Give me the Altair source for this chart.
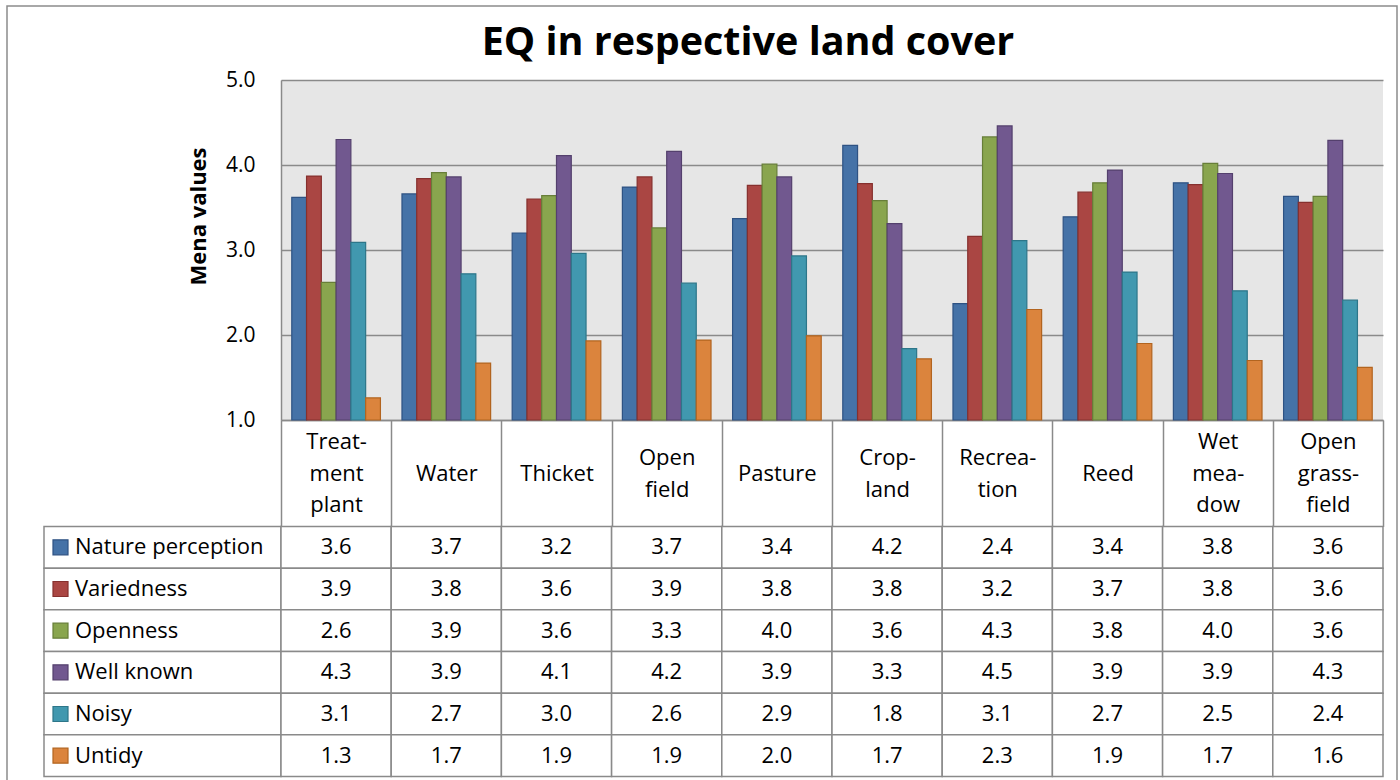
import altair as alt
import pandas as pd

# ---- data -------------------------------------------------------------
chart_title = "EQ in respective land cover"
value_axis_title = "Mena values"

# land-cover classes, written with the line breaks used in the table header
land_cover = [
    "Treat-\nment\nplant", "Water", "Thicket", "Open\nfield", "Pasture",
    "Crop-\nland", "Recrea-\ntion", "Reed", "Wet\nmea-\ndow", "Open\ngrass-\nfield",
]

series = ["Nature perception", "Variedness", "Openness", "Well known", "Noisy", "Untidy"]

nature_perception = [3.62, 3.66, 3.20, 3.74, 3.37, 4.23, 2.37, 3.39, 3.79, 3.63]
variedness        = [3.87, 3.84, 3.60, 3.86, 3.76, 3.78, 3.16, 3.68, 3.77, 3.56]
openness          = [2.62, 3.91, 3.64, 3.26, 4.01, 3.58, 4.33, 3.79, 4.02, 3.63]
well_known        = [4.30, 3.86, 4.11, 4.16, 3.86, 3.31, 4.46, 3.94, 3.90, 4.29]
noisy             = [3.09, 2.72, 2.96, 2.61, 2.93, 1.84, 3.11, 2.74, 2.52, 2.41]
untidy            = [1.26, 1.67, 1.93, 1.94, 1.99, 1.72, 2.30, 1.90, 1.70, 1.62]

axis_values = [1, 2, 3, 4, 5]

fill_colors = ["#4572A7", "#AA4643", "#89A54E", "#71588F", "#4198AF", "#DB843D"]
edge_colors = ["#2E5283", "#86302E", "#677E38", "#54406D", "#2D7689", "#B2641F"]

# ---- tables -------------------------------------------------------------
series_values = [nature_perception, variedness, openness, well_known, noisy, untidy]
records = []
for name, vals in zip(series, series_values):
    for cover, v in zip(land_cover, vals):
        records.append({"cover": cover, "series": name, "value": v})
long_df = pd.DataFrame(records)
legend_df = pd.DataFrame({"series": series})
title_df = pd.DataFrame({"title": [chart_title]})

# ---- styling ------------------------------------------------------------
FONT = "Open Sans"
LINE = "#8a8a8a"
PLOT_W, PLOT_H = 1102, 340
KEY_W = 237
TABLE_H = 250
HEADER_H = 106.5
HEADER_LINE = 31.7

fill_scale = alt.Scale(domain=series, range=fill_colors)
edge_scale = alt.Scale(domain=series, range=edge_colors)


def cover_scale():
    return alt.Scale(domain=land_cover, paddingInner=0, paddingOuter=0)


def row_scale():
    return alt.Scale(domain=series, paddingInner=0, paddingOuter=0)


# header labels are centred in the header row whatever their number of lines
n_lines = "length(split(datum.label, '\\n'))"
header_padding = {
    "condition": [
        {"test": f"{n_lines} == 3", "value": -HEADER_H / 2 - HEADER_LINE},
        {"test": f"{n_lines} == 2", "value": -HEADER_H / 2 - HEADER_LINE / 2},
    ],
    "value": -HEADER_H / 2,
}

# ---- top-left cell: outer frame and heading ---------------------------------
frame = alt.Chart(title_df).mark_rect(
    fill="white", fillOpacity=0, stroke="#8c8c8c", strokeWidth=1.5
).encode(x=alt.value(-37), x2=alt.value(1353), y=alt.value(-74), y2=alt.value(703))

heading = alt.Chart(title_df).mark_text(
    font=FONT, fontSize=39.5, fontWeight="bold", color="black",
    align="center", baseline="alphabetic",
).encode(x=alt.value(704), y=alt.value(-25), text="title:N")

corner = alt.layer(frame, heading).properties(width=KEY_W, height=PLOT_H)

# ---- grouped bars, with the land-cover header as the x axis ---------------
bars = alt.Chart(long_df).mark_bar(strokeWidth=1.2).encode(
    x=alt.X(
        "cover:N", sort=land_cover, scale=cover_scale(),
        axis=alt.Axis(
            title=None, orient="bottom", labelAngle=0,
            domainColor=LINE, domainWidth=1.5,
            ticks=True, tickBand="extent", tickSize=HEADER_H,
            tickColor=LINE, tickWidth=1.5,
            labelFont=FONT, labelFontSize=22, labelColor="black",
            labelPadding=header_padding, labelBaseline="middle",
            labelLineHeight=HEADER_LINE, labelOverlap=False,
            labelExpr="split(datum.label, '\\n')",
        ),
    ),
    xOffset=alt.XOffset(
        "series:N", sort=series,
        scale=alt.Scale(domain=series, paddingInner=0, paddingOuter=0.73),
    ),
    y=alt.Y(
        "value:Q", scale=alt.Scale(domain=[1, 5], zero=False, nice=False),
        axis=alt.Axis(
            title=value_axis_title, values=axis_values, format=".1f",
            ticks=False, domainColor=LINE, domainWidth=1.5,
            grid=True, gridColor=LINE, gridWidth=1.5,
            labelFont=FONT, labelFontSize=21, labelColor="black", labelPadding=26,
            titleFont=FONT, titleFontSize=22, titleFontWeight="bold",
            titleColor="black", titlePadding=15, titleY=136,
        ),
    ),
    y2=alt.datum(1),
    color=alt.Color("series:N", scale=fill_scale, legend=None),
    stroke=alt.Stroke("series:N", scale=edge_scale, legend=None),
).properties(
    width=PLOT_W, height=PLOT_H,
    view=alt.ViewBackground(fill="#e6e6e6", strokeWidth=0),
)

# ---- data table: legend column ---------------------------------------------
key_cells = alt.Chart(legend_df).mark_rect(
    fill="white", stroke=LINE, strokeWidth=1.5
).encode(
    y=alt.Y("series:N", sort=series, scale=row_scale(), axis=None),
    x=alt.value(0), x2=alt.value("width"),
)
key_swatches = alt.Chart(legend_df).mark_square(
    size=225, opacity=1, strokeWidth=1.2
).encode(
    y=alt.Y("series:N", sort=series, scale=row_scale(), axis=None),
    x=alt.value(16.5),
    color=alt.Color("series:N", scale=fill_scale, legend=None),
    stroke=alt.Stroke("series:N", scale=edge_scale, legend=None),
)
key_names = alt.Chart(legend_df).mark_text(
    font=FONT, fontSize=22, color="black", align="left", baseline="middle"
).encode(
    y=alt.Y("series:N", sort=series, scale=row_scale(), axis=None),
    x=alt.value(31),
    text="series:N",
)
key_panel = alt.layer(key_cells, key_swatches, key_names).properties(
    width=KEY_W, height=TABLE_H
)

# ---- data table: values ------------------------------------------------------
value_cells = alt.Chart(long_df).mark_rect(
    fill="white", stroke=LINE, strokeWidth=1.5
).encode(
    x=alt.X("cover:N", sort=land_cover, scale=cover_scale(), axis=None),
    y=alt.Y("series:N", sort=series, scale=row_scale(), axis=None),
)
value_text = alt.Chart(long_df).mark_text(
    font=FONT, fontSize=22, color="black", align="center", baseline="middle"
).encode(
    x=alt.X("cover:N", sort=land_cover, scale=cover_scale(), axis=None),
    y=alt.Y("series:N", sort=series, scale=row_scale(), axis=None),
    text=alt.Text("value:Q", format=".1f"),
)
value_panel = alt.layer(value_cells, value_text).properties(
    width=PLOT_W, height=TABLE_H
)

chart = alt.concat(
    corner, bars, key_panel, value_panel,
    columns=2,
    spacing={"row": HEADER_H, "column": 0},
    bounds="flush",
).properties(
    padding={"left": 6, "top": 5, "right": 0, "bottom": 0},
    background="white",
).configure(font=FONT).configure_view(strokeWidth=0)

chart.save("out.html", embed_options={"renderer": "svg", "actions": False})
